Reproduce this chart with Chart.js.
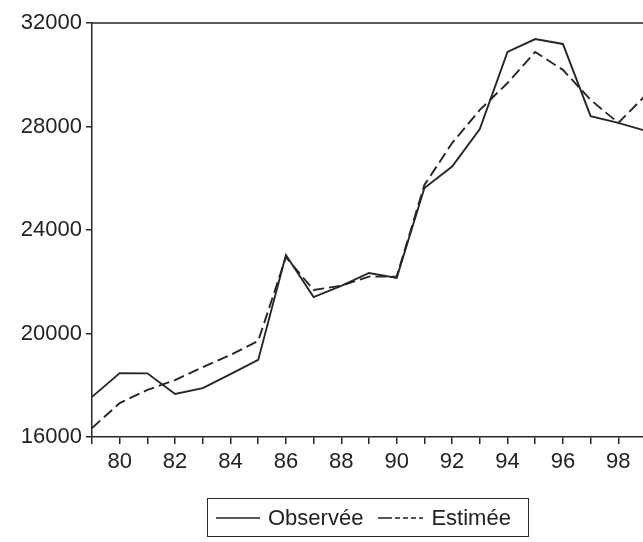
<!DOCTYPE html>
<html>
<head>
<meta charset="utf-8">
<script src="https://cdn.jsdelivr.net/npm/chart.js@4/dist/chart.umd.min.js"></script>
<style>
  html,body{margin:0;padding:0;background:#fff;overflow:hidden;width:643px;height:542px}
  #wrap{position:relative;width:643px;height:542px;overflow:hidden}
  canvas{position:absolute;left:0;top:0}
  #legend{position:absolute;left:207px;top:498px;width:320px;height:37px;border:1.5px solid #2a2a2a;
    font-family:"Liberation Sans",Arial,sans-serif;font-size:22px;color:#222;display:flex;align-items:center}
  #legend span.item{display:inline-flex;align-items:center}
  #legend svg{margin-right:8px}
</style>
</head>
<body>
<div id="wrap">
  <canvas id="chart" width="651" height="542"></canvas>
  <div id="legend">
    <span class="item" style="margin-left:8px"><svg width="44" height="4"><line x1="0" y1="2" x2="44" y2="2" stroke="#222" stroke-width="1.6"/></svg>Observée</span>
    <span class="item" style="margin-left:15px"><svg width="45" height="4"><line x1="0" y1="2" x2="45" y2="2" stroke="#222" stroke-width="1.6" stroke-dasharray="14,3,5,3,5,3,5,3"/></svg>Estimée</span>
  </div>
</div>
<script>
// années
const years = [1979,1980,1981,1982,1983,1984,1985,1986,1987,1988,1989,1990,1991,1992,1993,1994,1995,1996,1997,1998,1999];

// séries
const observee = [17550,18470,18460,17660,17890,18430,18980,23030,21410,21840,22340,22150,25620,26450,27900,30880,31380,31190,28400,28140,27830];
const estimee  = [16350,17310,17820,18200,18700,19170,19710,22950,21680,21850,22200,22200,25740,27360,28640,29680,30880,30190,29030,28140,29220];

const yTicks = [16000,20000,24000,28000,32000];

const ink = '#262626';
const fontTick = { family:'"Liberation Sans", Arial, sans-serif', size:22 };

const pts = arr => arr.map((v,i)=>({ x: years[i], y: v }));

// cadre (haut + droite)
const frame = {
  id:'frame',
  afterDraw(chart){
    const {ctx, chartArea:a} = chart;
    ctx.save();
    ctx.strokeStyle = ink;
    ctx.lineWidth = 1.5;
    ctx.beginPath();
    ctx.moveTo(a.left, a.top);
    ctx.lineTo(a.right, a.top);
    ctx.lineTo(a.right, a.bottom);
    ctx.stroke();
    ctx.restore();
  }
};

new Chart(document.getElementById('chart'), {
  type:'line',
  data:{
    datasets:[
      { label:'Observée', data: pts(observee), borderColor:ink, borderWidth:1.9, pointRadius:0, tension:0, fill:false },
      { label:'Estimée',  data: pts(estimee),  borderColor:ink, borderWidth:1.9, pointRadius:0, tension:0, fill:false, borderDash:[11,5] }
    ]
  },
  options:{
    responsive:false,
    devicePixelRatio:1,
    animation:false,
    layout:{ padding:{ top:23, right:1, left:0, bottom:0 } },
    plugins:{ legend:{ display:false }, tooltip:{ enabled:false } },
    scales:{
      x:{
        type:'linear',
        min:years[0], max:years[years.length-1],
        afterFit: s => { s.height = 105; },
        ticks:{
          stepSize:1, autoSkip:false, maxRotation:0, padding:5,
          color:'#222', font:fontTick,
          callback: v => (v % 2 === 0 && v > years[0] && v < years[years.length-1]) ? String(v).slice(2) : ''
        },
        grid:{ drawOnChartArea:false, drawTicks:true, tickLength:7, color:ink, lineWidth:1.5 },
        border:{ color:ink, width:1.5 }
      },
      y:{
        min:yTicks[0], max:yTicks[yTicks.length-1],
        afterFit: s => { s.width = 92; },
        afterBuildTicks: s => { s.ticks = yTicks.map(v=>({ value:v })); },
        ticks:{ color:'#222', font:fontTick, padding:4, callback: v => String(v) },
        grid:{ drawOnChartArea:false, drawTicks:true, tickLength:6, color:ink, lineWidth:1.5 },
        border:{ color:ink, width:1.5 }
      }
    }
  },
  plugins:[frame]
});
</script>
</body>
</html>
